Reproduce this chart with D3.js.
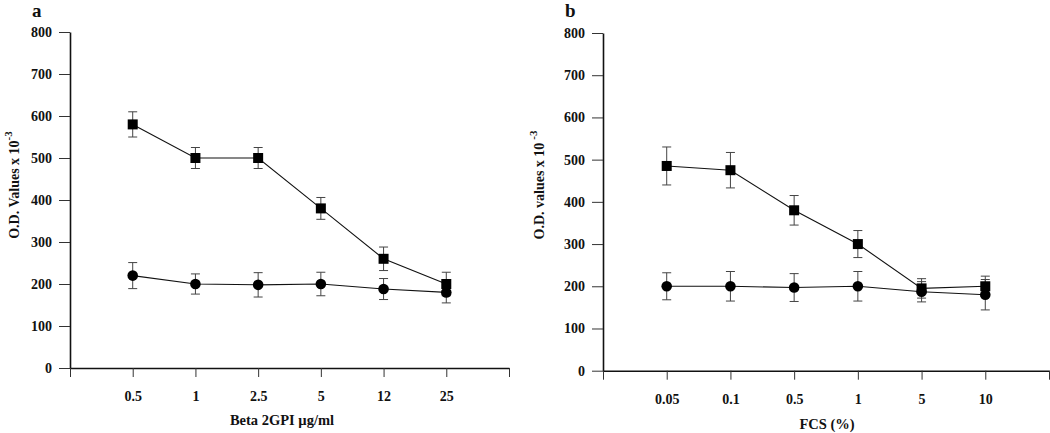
<!DOCTYPE html>
<html>
<head>
<meta charset="utf-8">
<script src="https://cdn.jsdelivr.net/npm/d3@7"></script>
<style>
  html, body { margin: 0; padding: 0; background: #fff; }
  svg { display: block; }
  text { font-family: "Liberation Serif", "Times New Roman", serif; font-weight: bold; fill: #111; }
</style>
</head>
<body>
<svg id="chart" width="1050" height="433"></svg>
<script>
// ---- Data ----
const yTicks = [0, 100, 200, 300, 400, 500, 600, 700, 800];

const catsA = ["0.5", "1", "2.5", "5", "12", "25"];
const squaresA = [580, 500, 500, 380, 260, 200];
const squaresErrA = [30, 25, 25, 26, 28, 28];
const circlesA = [220, 200, 198, 200, 188, 180];
const circlesErrA = [31, 24, 29, 28, 25, 25];

const catsB = ["0.05", "0.1", "0.5", "1", "5", "10"];
const squaresB = [485, 475, 380, 300, 195, 200];
const squaresErrB = [45, 42, 35, 32, 23, 24];
const circlesB = [200, 200, 197, 200, 187, 180];
const circlesErrB = [32, 35, 33, 35, 24, 36];

const panels = [
  { letter: "a", cats: catsA, sq: squaresA, sqE: squaresErrA, ci: circlesA, ciE: circlesErrA,
    x0: 70, x1: 509, yTop: 32, yBot: 368, letterX: 32, titleX: 15,
    yTitle: "O.D. Values x 10", supGap: 0, xTitle: "Beta 2GPI \u00b5g/ml", xTitleX: 282, xTitleY: 425 },
  { letter: "b", cats: catsB, sq: squaresB, sqE: squaresErrB, ci: circlesB, ciE: circlesErrB,
    x0: 603, x1: 1049, yTop: 33, yBot: 370.7, letterX: 565, titleX: 540,
    yTitle: "O.D. values x 10", supGap: 3, xTitle: "FCS (%)", xTitleX: 827, xTitleY: 429 }
];

const svg = d3.select("#chart");

panels.forEach(p => {
  const g = svg.append("g");
  const n = p.cats.length;
  const x = d3.scaleLinear().domain([0, n + 1]).range([p.x0, p.x1]);
  const y = d3.scaleLinear().domain([0, 800]).range([p.yBot, p.yTop]);

  // y axis
  const yAxis = g.append("g")
    .attr("transform", `translate(${p.x0},0)`)
    .call(d3.axisLeft(y).tickValues(yTicks).tickSize(11).tickPadding(7).tickSizeOuter(0));
  yAxis.select(".domain").attr("stroke", "#111").attr("stroke-width", 1.6);
  yAxis.selectAll(".tick line").attr("stroke", "#333").attr("stroke-width", 1);
  yAxis.selectAll("text").style("font-size", "14px").attr("fill", "#111");

  // x axis
  const xAxis = g.append("g")
    .attr("transform", `translate(0,${p.yBot})`)
    .call(d3.axisBottom(x).tickValues(d3.range(0, n + 2)).tickSize(9).tickPadding(14).tickSizeOuter(0)
      .tickFormat(i => (i >= 1 && i <= n) ? p.cats[i - 1] : ""));
  xAxis.select(".domain").attr("stroke", "#111").attr("stroke-width", 1.6);
  xAxis.selectAll(".tick line").attr("stroke", "#333").attr("stroke-width", 1);
  xAxis.selectAll("text").style("font-size", "14px").attr("fill", "#111");

  // panel letter
  g.append("text").attr("x", p.letterX).attr("y", 17).style("font-size", "19px").text(p.letter);

  // y title (rotated)
  const yt = g.append("text")
    .attr("transform", `translate(${p.titleX + 4},${185}) rotate(-90)`)
    .attr("text-anchor", "middle")
    .style("font-size", "14px");
  yt.append("tspan").text(p.yTitle);
  yt.append("tspan").attr("dx", p.supGap).attr("dy", -7).style("font-size", "11px").text("-3");

  // x title
  g.append("text").attr("x", p.xTitleX).attr("y", p.xTitleY).attr("text-anchor", "middle")
    .style("font-size", "14.5px").text(p.xTitle);

  const idx = d3.range(n);
  const line = d3.line().x(i => x(i + 1));

  [[p.sq, p.sqE], [p.ci, p.ciE]].forEach(([vals, errs]) => {
    // error bars
    const eb = g.append("g").attr("stroke", "#444").attr("stroke-width", 1).attr("fill", "none");
    idx.forEach(i => {
      const cx = x(i + 1), t = y(vals[i] + errs[i]), b = y(vals[i] - errs[i]);
      eb.append("line").attr("x1", cx).attr("x2", cx).attr("y1", t).attr("y2", b);
      eb.append("line").attr("x1", cx - 4.5).attr("x2", cx + 4.5).attr("y1", t).attr("y2", t);
      eb.append("line").attr("x1", cx - 4.5).attr("x2", cx + 4.5).attr("y1", b).attr("y2", b);
    });
    // connecting line
    g.append("path")
      .attr("d", line.y(i => y(vals[i]))(idx))
      .attr("fill", "none").attr("stroke", "#111").attr("stroke-width", 1.1);
  });

  // markers
  g.selectAll(null).data(idx).enter().append("rect")
    .attr("x", i => x(i + 1) - 5).attr("y", i => y(p.sq[i]) - 5)
    .attr("width", 10).attr("height", 10).attr("fill", "#000");
  g.selectAll(null).data(idx).enter().append("circle")
    .attr("cx", i => x(i + 1)).attr("cy", i => y(p.ci[i])).attr("r", 5.3).attr("fill", "#000");
});
</script>
</body>
</html>
